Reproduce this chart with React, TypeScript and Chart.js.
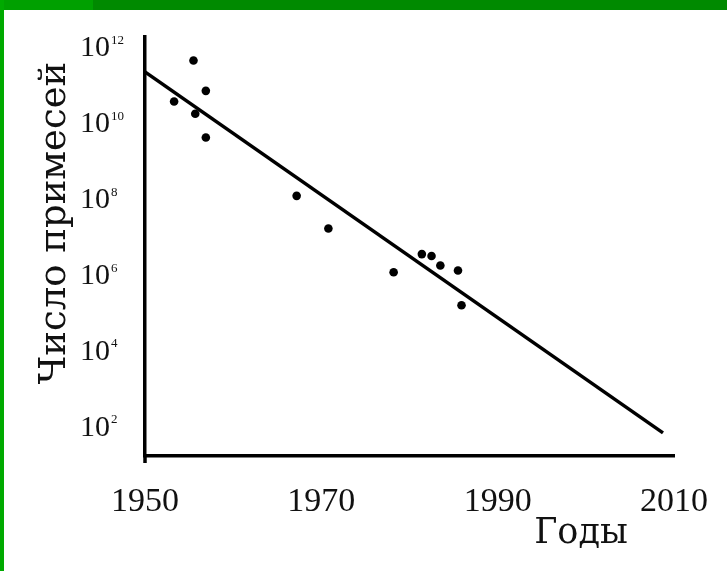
import React, { useEffect, useRef } from 'react';
import { Chart, registerables } from 'chart.js';

Chart.register(...registerables);

const sampleYears = [1955.5, 1956.9, 1953.3, 1955.7, 1956.9, 1967.2, 1970.8, 1978.2, 1981.4, 1982.5, 1983.5, 1985.5, 1985.9];
const impurityCounts = [4.8e11, 7.6e10, 4.0e10, 1.9e10, 4.5e9, 1.3e8, 1.8e7, 1.26e6, 3.8e6, 3.4e6, 1.9e6, 1.4e6, 1.7e5];

// Trend line end points
const trendYears = [1950, 2008.75];
const trendCounts = [2.4e11, 74];

// Axis ticks
const xTickYears = [1950, 1970, 1990, 2010];
const yTickValues = [1e2, 1e4, 1e6, 1e8, 1e10, 1e12];

const xTitle = 'Годы';
const yTitle = 'Число примесей';

const NUM_FONT = '"Liberation Serif", "Times New Roman", serif';
const TITLE_FONT = '"DejaVu Serif", serif';

export default function App() {
  const ref = useRef<HTMLCanvasElement | null>(null);

  useEffect(() => {
    const canvas = ref.current;
    if (!canvas) return;

    const extraText = {
      id: 'extraText',
      afterDraw(chart: any) {
        const ctx = chart.ctx as CanvasRenderingContext2D;
        const ys = chart.scales.y;
        ctx.save();
        ctx.fillStyle = '#111';
        // exponents of the y tick labels
        ctx.font = `13px ${NUM_FONT}`;
        ctx.textAlign = 'left';
        ctx.textBaseline = 'middle';
        ys.ticks.forEach((t: any) => {
          const p = ys.getPixelForValue(t.value);
          ctx.fillText(String(Math.round(Math.log10(t.value))), ys.right - 34, p - 8);
        });
        // y-axis tail below x axis
        ctx.strokeStyle = '#000';
        ctx.lineWidth = 3.5;
        ctx.beginPath();
        ctx.moveTo(chart.chartArea.left, chart.chartArea.bottom);
        ctx.lineTo(chart.chartArea.left, chart.chartArea.bottom + 7);
        ctx.stroke();
        // x title
        ctx.font = `35px ${TITLE_FONT}`;
        ctx.textAlign = 'center';
        ctx.textBaseline = 'alphabetic';
        ctx.fillText(xTitle, 581, 543);
        // y title
        ctx.translate(65, 223);
        ctx.rotate(-Math.PI / 2);
        ctx.font = `37px ${TITLE_FONT}`;
        ctx.fillText(yTitle, 0, 0);
        ctx.restore();
      },
    };

    const chart = new Chart(canvas, {
      type: 'scatter',
      data: {
        datasets: [
          {
            type: 'line',
            data: trendYears.map((x, i) => ({ x, y: trendCounts[i] })),
            borderColor: '#000',
            borderWidth: 3.5,
            pointRadius: 0,
            fill: false,
          } as any,
          {
            type: 'scatter',
            data: sampleYears.map((x, i) => ({ x, y: impurityCounts[i] })),
            backgroundColor: '#000',
            borderColor: '#000',
            borderWidth: 0,
            pointRadius: 4.3,
          },
        ],
      },
      options: {
        responsive: false,
        animation: false,
        devicePixelRatio: 1,
        layout: { padding: { left: 0, top: 37, right: 53, bottom: 0 } },
        plugins: {
          legend: { display: false },
          tooltip: { enabled: false },
          title: { display: false },
        },
        scales: {
          x: {
            type: 'linear',
            min: 1950,
            max: 2010,
            afterBuildTicks: (s: any) => {
              s.ticks = xTickYears.map((v) => ({ value: v }));
            },
            afterFit: (s: any) => {
              s.height = 115;
              s.paddingLeft = 0;
              s.paddingRight = 0;
            },
            grid: { display: false },
            border: { display: true, color: '#000', width: 3.5 },
            ticks: {
              color: '#111',
              font: { family: NUM_FONT, size: 34 },
              padding: 18,
              maxRotation: 0,
              autoSkip: false,
              callback: (v: any) => String(v),
            },
          },
          y: {
            type: 'logarithmic',
            min: Math.pow(10, 1.26),
            max: Math.pow(10, 12.3),
            afterBuildTicks: (s: any) => {
              s.ticks = yTickValues.map((v) => ({ value: v }));
            },
            afterFit: (s: any) => {
              s.width = 145;
              s.paddingTop = 0;
              s.paddingBottom = 0;
            },
            grid: { display: false },
            border: { display: true, color: '#000', width: 3.5 },
            ticks: {
              color: '#111',
              font: { family: NUM_FONT, size: 30 },
              padding: 27,
              autoSkip: false,
              callback: () => '10',
            },
          },
        },
      },
      plugins: [extraText],
    } as any);

    return () => chart.destroy();
  }, []);

  return (
    <div style={{ position: 'fixed', left: 0, top: 0, width: 727, height: 571, background: '#fff', overflow: 'hidden' }}>
      <div style={{ position: 'absolute', left: 0, top: 0, width: 727, height: 10, background: '#008a00' }} />
      <div style={{ position: 'absolute', left: 0, top: 0, width: 93, height: 10, background: '#00a000' }} />
      <div style={{ position: 'absolute', left: 0, top: 0, width: 4, height: 571, background: '#00aa00' }} />
      <canvas ref={ref} width={727} height={571} style={{ position: 'absolute', left: 0, top: 0 }} />
    </div>
  );
}
